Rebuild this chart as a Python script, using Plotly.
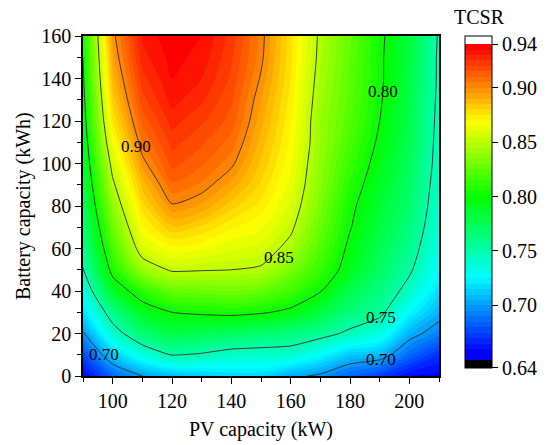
import plotly.graph_objects as go

# PV capacity (kW) grid
pv_kw = [90, 100, 110, 120, 130, 140, 150, 160, 170, 180, 190, 200, 210]
# Battery capacity (kWh) grid
battery_kwh = [0, 10, 20, 30, 40, 50, 60, 70, 80, 90, 100, 110, 120, 130, 140, 150, 160]

# TCSR values, one list per PV capacity (bottom -> top along battery capacity)
tcsr_pv090 = [0.658, 0.678, 0.698, 0.718, 0.733, 0.749, 0.758, 0.766, 0.773, 0.779, 0.784, 0.788, 0.792, 0.795, 0.798, 0.800, 0.803]
tcsr_pv100 = [0.685, 0.712, 0.740, 0.761, 0.788, 0.806, 0.818, 0.828, 0.838, 0.847, 0.856, 0.866, 0.875, 0.882, 0.888, 0.893, 0.897]
tcsr_pv110 = [0.700, 0.735, 0.767, 0.790, 0.810, 0.840, 0.858, 0.869, 0.878, 0.887, 0.897, 0.905, 0.912, 0.918, 0.923, 0.928, 0.931]
tcsr_pv120 = [0.708, 0.751, 0.778, 0.800, 0.826, 0.852, 0.868, 0.884, 0.899, 0.909, 0.917, 0.922, 0.927, 0.932, 0.935, 0.937, 0.939]
tcsr_pv130 = [0.712, 0.748, 0.776, 0.803, 0.828, 0.851, 0.866, 0.879, 0.894, 0.904, 0.911, 0.916, 0.921, 0.926, 0.930, 0.933, 0.935]
tcsr_pv140 = [0.716, 0.742, 0.772, 0.805, 0.830, 0.850, 0.861, 0.871, 0.882, 0.893, 0.902, 0.908, 0.913, 0.916, 0.919, 0.921, 0.923]
tcsr_pv150 = [0.716, 0.741, 0.768, 0.802, 0.826, 0.848, 0.858, 0.866, 0.873, 0.879, 0.884, 0.888, 0.892, 0.895, 0.899, 0.902, 0.903]
tcsr_pv160 = [0.704, 0.740, 0.764, 0.796, 0.815, 0.832, 0.845, 0.853, 0.859, 0.863, 0.866, 0.869, 0.871, 0.873, 0.875, 0.876, 0.877]
tcsr_pv170 = [0.697, 0.727, 0.757, 0.782, 0.801, 0.813, 0.821, 0.827, 0.832, 0.836, 0.838, 0.840, 0.840, 0.842, 0.844, 0.846, 0.847]
tcsr_pv180 = [0.684, 0.712, 0.746, 0.764, 0.777, 0.792, 0.796, 0.801, 0.804, 0.809, 0.814, 0.818, 0.821, 0.823, 0.824, 0.825, 0.826]
tcsr_pv190 = [0.674, 0.708, 0.735, 0.755, 0.764, 0.771, 0.776, 0.781, 0.785, 0.789, 0.793, 0.797, 0.800, 0.802, 0.803, 0.803, 0.804]
tcsr_pv200 = [0.660, 0.686, 0.706, 0.726, 0.743, 0.753, 0.759, 0.764, 0.768, 0.771, 0.774, 0.776, 0.778, 0.779, 0.780, 0.781, 0.781]
tcsr_pv210 = [0.658, 0.670, 0.692, 0.706, 0.717, 0.726, 0.732, 0.736, 0.739, 0.741, 0.743, 0.744, 0.745, 0.746, 0.747, 0.747, 0.748]

# contour line labels: (level, PV kW, battery kWh)
line_labels = [(0.90, 108.0, 108.0), (0.85, 156.0, 56.0), (0.80, 191.0, 134.0),
               (0.75, 190.5, 27.5), (0.70, 97.0, 10.0), (0.70, 190.5, 7.8)]

columns = [tcsr_pv090, tcsr_pv100, tcsr_pv110, tcsr_pv120, tcsr_pv130, tcsr_pv140,
           tcsr_pv150, tcsr_pv160, tcsr_pv170, tcsr_pv180, tcsr_pv190, tcsr_pv200, tcsr_pv210]
z = [[columns[i][j] for i in range(len(pv_kw))] for j in range(len(battery_kwh))]

# fill levels (first band = black under-colour, last band = white over-colour)
fill_start, fill_end, fill_step = 0.645, 0.945, 0.005
line_levels = (0.70, 0.90, 0.05)
cbar_ticks = [0.6427, 0.70, 0.75, 0.80, 0.85, 0.90, 0.94]
cbar_ticktext = ["0.64", "0.70", "0.75", "0.80", "0.85", "0.90", "0.94"]

nc = int(round((fill_end - fill_start) / fill_step)) + 1

def pos(v):
    p = ((v - fill_start) / fill_step + 0.5) / nc
    return min(max(p, 0.0), 1.0)

rainbow = [(0.6575, (0, 0, 255)), (0.7263, (0, 255, 255)), (0.7988, (0, 255, 0)),
           (0.8688, (255, 255, 0)), (0.9375, (255, 0, 0))]

def rgb(c):
    return "rgb(%d,%d,%d)" % c

colorscale = [[0.0, "black"], [pos(0.65), "black"], [pos(0.65), rgb(rainbow[0][1])]]
for v, c in rainbow:
    colorscale.append([pos(v), rgb(c)])
colorscale.append([pos(0.94), rgb(rainbow[-1][1])])
colorscale.append([pos(0.94), "white"])
colorscale.append([1.0, "white"])

FONT = "Liberation Serif, Times New Roman, serif"
fig = go.Figure()
fig.add_trace(go.Contour(
    x=pv_kw, y=battery_kwh, z=z,
    autocontour=False,
    contours=dict(start=fill_start, end=fill_end, size=fill_step, coloring="fill", showlines=False),
    line=dict(width=0),
    colorscale=colorscale,
    hoverinfo="skip",
    colorbar=dict(
        x=(465 - 83) / 356, xanchor="left", xpad=0,
        y=1, yanchor="top", ypad=0,
        lenmode="pixels", len=332, thickness=27,
        outlinewidth=1, outlinecolor="black",
        ticks="outside", ticklen=6, tickcolor="black",
        tickvals=cbar_ticks, ticktext=cbar_ticktext,
        tickfont=dict(family=FONT, size=20, color="black"),
    ),
))
fig.add_trace(go.Contour(
    x=pv_kw, y=battery_kwh, z=z,
    autocontour=False,
    contours=dict(start=line_levels[0], end=line_levels[1], size=line_levels[2], coloring="none",
                  showlabels=False),
    line=dict(color="#3a3a3a", width=1, smoothing=0.6),
    showscale=False,
    hoverinfo="skip",
))
for lev, lx, ly in line_labels:
    fig.add_annotation(x=lx, y=ly, xref="x", yref="y", text="%.2f" % lev, showarrow=False,
                       font=dict(family=FONT, size=17, color="black"))

fig.add_annotation(x=(480 - 83) / 356, y=1 + (36 - 17) / 340, xref="paper", yref="paper",
                   text="TCSR", showarrow=False, xanchor="center", yanchor="middle",
                   font=dict(family=FONT, size=20, color="black"))
# axis titles
fig.add_annotation(x=0.5, y=(376 - 430) / 340, xref="paper", yref="paper",
                   text="PV capacity (kW)", showarrow=False, xanchor="center", yanchor="middle",
                   font=dict(family=FONT, size=20, color="black"))
fig.add_annotation(x=(23 - 83) / 356, y=0.5, xref="paper", yref="paper", textangle=-90,
                   text="Battery capacity (kWh)", showarrow=False, xanchor="center", yanchor="middle",
                   font=dict(family=FONT, size=20, color="black"))

axis_common = dict(
    showline=True, linecolor="black", linewidth=1.5, mirror=True,
    ticks="outside", ticklen=6, tickwidth=1.3, tickcolor="black",
    tickfont=dict(family=FONT, size=20, color="black"),
    showgrid=False, zeroline=False, automargin=False,
)
fig.update_xaxes(range=[90, 210], tickvals=[100, 120, 140, 160, 180, 200],
                 minor=dict(tickvals=[90, 110, 130, 150, 170, 190, 210], ticklen=4, ticks="outside", tickcolor="black"),
                 **axis_common)
fig.update_yaxes(range=[0, 160], dtick=20,
                 minor=dict(dtick=10, ticklen=4, ticks="outside", tickcolor="black"),
                 **axis_common)
fig.update_layout(
    width=555, height=445,
    margin=dict(l=83, r=116, t=36, b=69),
    paper_bgcolor="white", plot_bgcolor="white",
    showlegend=False,
)
fig.write_html("out.html")
